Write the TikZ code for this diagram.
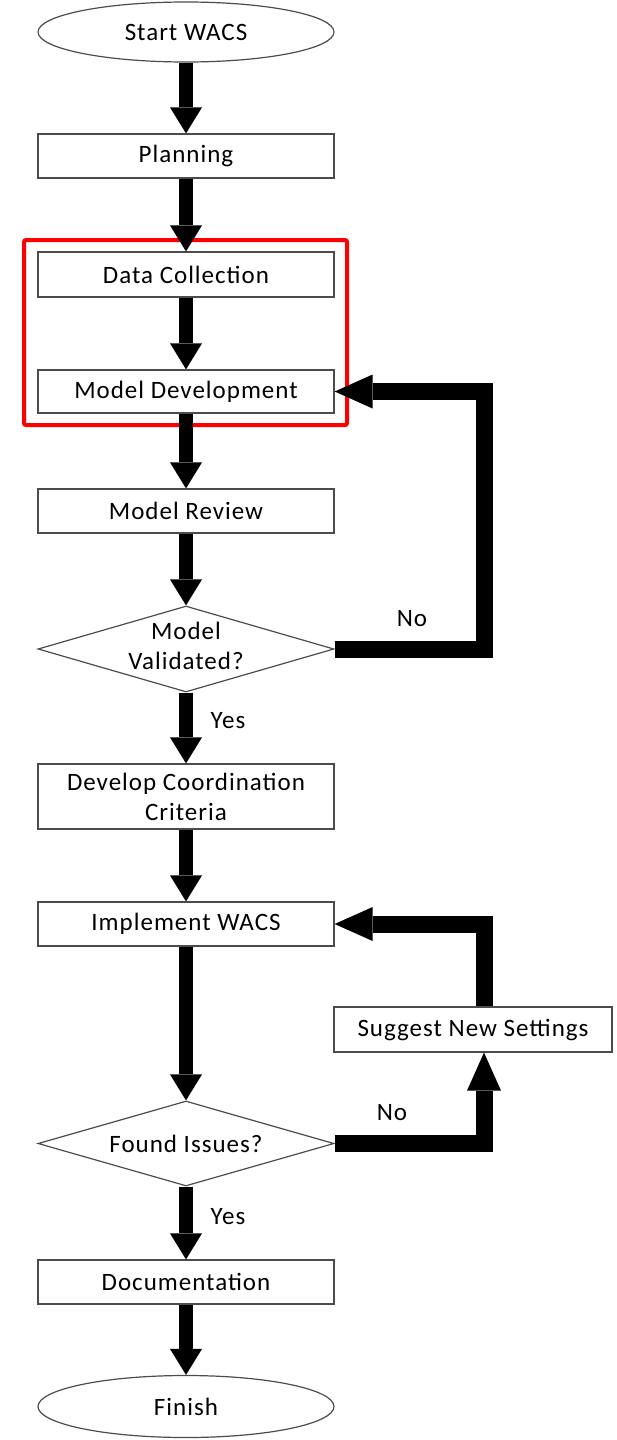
\documentclass[tikz,border=0pt]{standalone}
\usepackage{fontspec}
\setmainfont{Carlito}[LetterSpace=4]
\usetikzlibrary{arrows.meta,shapes.geometric}

\tikzset{
  txt/.style={font=\fontsize{25}{30}\selectfont, text=black, inner sep=0pt},
  stepbox/.style={txt, draw=black!70, line width=1.2pt, fill=white,
    minimum width=296pt, minimum height=44pt, align=center},
  terminal/.style={txt, ellipse, draw=black!70, line width=1.2pt, fill=white,
    minimum width=296pt, minimum height=60pt},
  decision/.style={diamond, draw=black!70, line width=1.2pt, fill=white,
    inner sep=0pt, shape aspect=3.44, minimum width=296pt, minimum height=86pt},
  flow/.style={line width=14pt, -{Triangle[length=26pt,width=32pt,line width=0pt]}},
  back/.style={line width=17pt, -{Triangle[length=38pt,width=34pt,line width=0pt]}},
  branch/.style={txt},
}

\begin{document}
\begin{tikzpicture}[x=1pt,y=-1pt]
\useasboundingbox (0,0) rectangle (616,1440);

% main column
\node[terminal] (start) at (186,32) {Start WACS};
\node[stepbox] (plan) at (186,156) {Planning};
\node[stepbox, minimum height=45pt] (data) at (186,274.5) {Data Collection};
\node[stepbox, minimum height=43pt] (dev) at (186,391.5) {Model Development};
\node[stepbox] (rev) at (186,511) {Model Review};
\node[decision] (val) at (186,649) {};
\node[txt, align=center] (valtxt) at (186,646) {Model\\Validated?};
\node[stepbox, minimum height=65pt] (crit) at (186,796.5) {Develop Coordination\\Criteria};
\node[stepbox] (impl) at (186,924) {Implement WACS};
\node[decision, minimum height=85pt] (iss) at (186,1143.5) {};
\node[txt] (isstxt) at (186,1143.5) {Found Issues?};
\node[stepbox] (docu) at (186,1282) {Documentation};
\node[terminal, minimum height=62pt] (fin) at (186,1406.5) {Finish};

% side step
\node[stepbox, minimum width=278pt, minimum height=45pt] (sugg) at (473,1029.5) {Suggest New Settings};

% highlighted group
\node[draw=red, line width=4pt, rounded corners=2pt, inner sep=0pt,
  minimum width=323pt, minimum height=185pt] (group) at (185.5,332.5) {};

% straight flow
\draw[flow] (start) -- (plan);
\draw[flow] (plan) -- (data);
\draw[flow] (data) -- (dev);
\draw[flow] (dev) -- (rev);
\draw[flow] (rev) -- (val);
\draw[flow] (val) -- (crit);
\draw[flow] (crit) -- (impl);
\draw[flow] (impl) -- (iss);
\draw[flow] (iss) -- (docu);
\draw[flow] (docu) -- (fin);

% feedback loops
\coordinate (loopA) at (484,649);
\coordinate (loopB) at (484,1143.5);
\draw[back] (val.east) -- (loopA) |- (dev.east);
\draw[back] (iss.east) -- (loopB) -- (loopB |- sugg.south);
\draw[back] (sugg.north -| loopB) |- (impl.east);

% branch labels
\node[branch] (yes1) at (228,721) {Yes};
\node[branch] (no1) at (412,619) {No};
\node[branch] (yes2) at (228,1217) {Yes};
\node[branch] (no2) at (392,1113) {No};
\end{tikzpicture}
\end{document}
